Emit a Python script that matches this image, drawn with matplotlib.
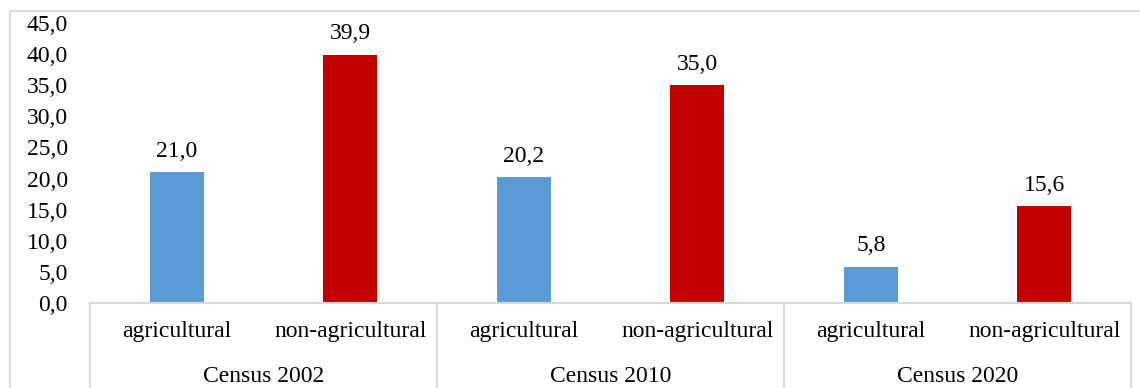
import matplotlib
matplotlib.use("Agg")
import matplotlib.pyplot as plt
from matplotlib.lines import Line2D
import numpy as np

groups = ["Census 2002", "Census 2010", "Census 2020"]
categories = ["agricultural", "non-agricultural"]
agricultural = [21.0, 20.2, 5.8]
non_agricultural = [39.9, 35.0, 15.6]
yticks = [0, 5, 10, 15, 20, 25, 30, 35, 40, 45]

BLUE = "#5b9bd5"
RED = "#c00000"
GRID = "#d9d9d9"
FONT = "Liberation Serif"
FS = 17

plt.rcParams["font.family"] = [FONT, "DejaVu Serif"]

W, H = 1140, 388
fig = plt.figure(figsize=(W / 100, H / 100), dpi=100)
ax = fig.add_axes([90 / W, 1 - 303 / H, (1131 - 90) / W, (303 - 23) / H])

vals = []
cols = []
labels = []
for g in range(len(groups)):
    vals += [agricultural[g], non_agricultural[g]]
    cols += [BLUE, RED]
    labels += categories
x = np.arange(len(vals))
bars = ax.bar(x, vals, width=0.31, color=cols)
for xi, v in zip(x, vals):
    ax.annotate(f"{v:.1f}".replace(".", ","), (xi, v), xytext=(0, 7.5),
                textcoords="offset points", ha="center", va="bottom",
                fontsize=FS)

ax.set_xlim(-0.5, len(vals) - 0.5)
ax.set_ylim(0, 45)
ax.set_yticks(yticks)
ax.set_yticklabels([f"{t:.1f}".replace(".", ",") for t in yticks], fontsize=FS)
ax.tick_params(axis="y", length=0, pad=16)
ax.set_xticks([])
for s in ax.spines.values():
    s.set_visible(False)

# two-level category axis
trans = ax.get_xaxis_transform()
ax.add_line(Line2D([-0.5, len(vals) - 0.5], [0, 0], transform=trans,
                   color=GRID, lw=1.5, clip_on=False))
for b in np.arange(len(groups) + 1) * 2 - 0.5:
    ax.add_line(Line2D([b, b], [0, -0.4], transform=trans, color=GRID,
                       lw=1.5, clip_on=False))
cat_y = -(332 - 303) / 280
grp_y = -(377 - 303) / 280
for xi, lab in zip(x, labels):
    ax.text(xi, cat_y, lab, transform=trans, ha="center", va="center",
            fontsize=FS)
for g, name in enumerate(groups):
    ax.text(2 * g + 0.5, grp_y, name, transform=trans, ha="center",
            va="center", fontsize=FS)

# outer frame (cropped at right/bottom)
fig.add_artist(Line2D([10 / W, 1], [1 - 11 / H, 1 - 11 / H], color=GRID, lw=1.5))
fig.add_artist(Line2D([10 / W, 10 / W], [0, 1 - 11 / H], color=GRID, lw=1.5))

fig.savefig("out.png", dpi=100)
